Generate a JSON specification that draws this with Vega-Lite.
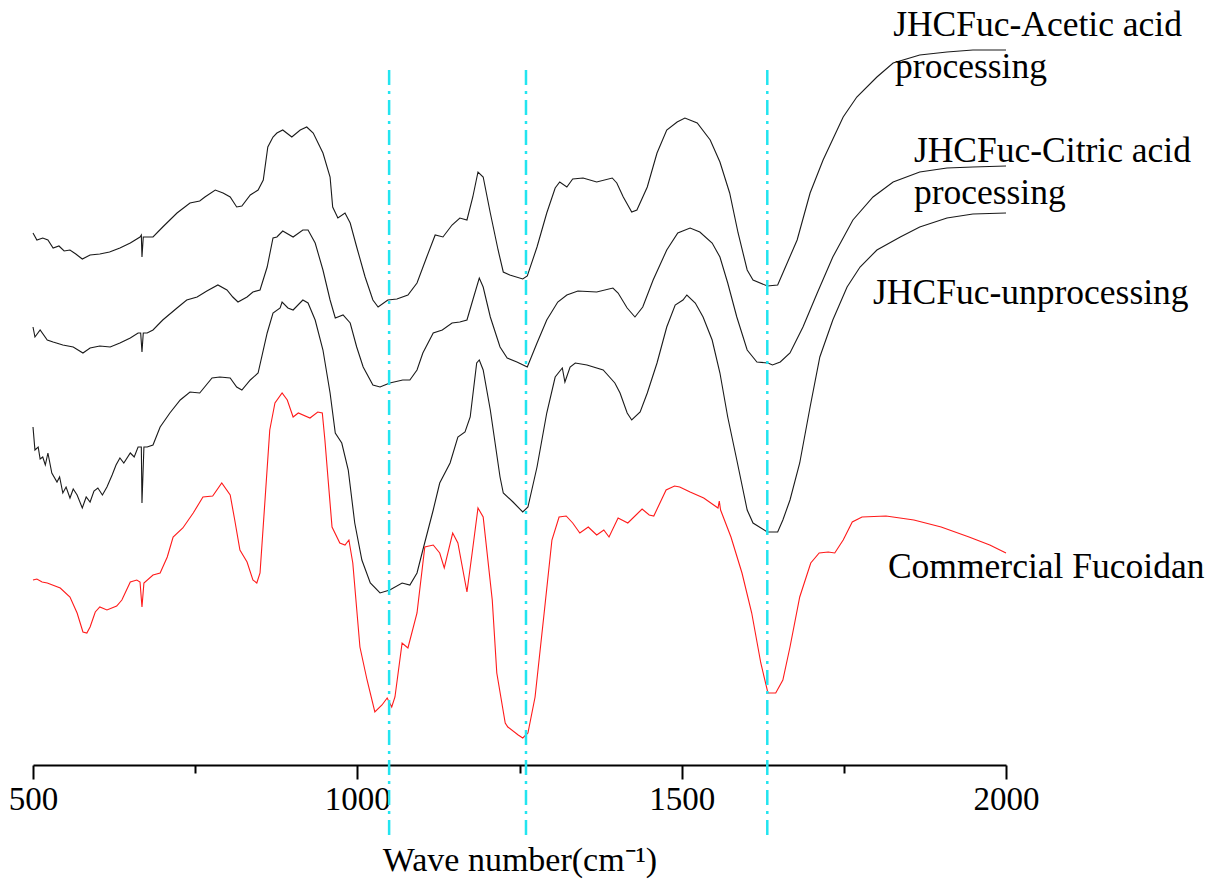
{
  "$schema": "https://vega.github.io/schema/vega-lite/v6.json",
  "autosize": "none",
  "width": 973,
  "height": 720,
  "padding": {"left": 33, "top": 45, "right": 213, "bottom": 119},
  "background": "white",
  "config": {
    "view": {"stroke": null},
    "font": "Liberation Serif"
  },
  "datasets": {
    "acetic": [
      {"wn":500,"t":532},{"wn":506,"t":525},{"wn":515,"t":527},{"wn":523,"t":525},{"wn":531,"t":517},{"wn":540,"t":519},{"wn":548,"t":514},{"wn":557,"t":515},{"wn":566,"t":511},{"wn":576,"t":506},{"wn":588,"t":510},{"wn":603,"t":511},{"wn":618,"t":513},{"wn":634,"t":517},{"wn":650,"t":522},{"wn":665,"t":528},{"wn":667,"t":530},{"wn":668,"t":508},{"wn":670,"t":528},{"wn":676,"t":528},{"wn":685,"t":528},{"wn":700,"t":538},{"wn":722,"t":552},{"wn":742,"t":562},{"wn":757,"t":564},{"wn":765,"t":568},{"wn":781,"t":575},{"wn":793,"t":572},{"wn":804,"t":568},{"wn":814,"t":558},{"wn":822,"t":559},{"wn":835,"t":570},{"wn":847,"t":575},{"wn":855,"t":585},{"wn":862,"t":618},{"wn":870,"t":628},{"wn":876,"t":632},{"wn":885,"t":635},{"wn":899,"t":628},{"wn":912,"t":635},{"wn":922,"t":638},{"wn":932,"t":632},{"wn":947,"t":612},{"wn":958,"t":588},{"wn":962,"t":558},{"wn":970,"t":547},{"wn":981,"t":552},{"wn":989,"t":542},{"wn":999,"t":518},{"wn":1012,"t":488},{"wn":1024,"t":465},{"wn":1032,"t":458},{"wn":1047,"t":465},{"wn":1061,"t":466},{"wn":1078,"t":470},{"wn":1092,"t":482},{"wn":1107,"t":508},{"wn":1120,"t":530},{"wn":1132,"t":528},{"wn":1146,"t":540},{"wn":1158,"t":547},{"wn":1169,"t":545},{"wn":1178,"t":568},{"wn":1186,"t":593},{"wn":1194,"t":588},{"wn":1205,"t":552},{"wn":1217,"t":515},{"wn":1225,"t":493},{"wn":1235,"t":490},{"wn":1255,"t":486},{"wn":1262,"t":489},{"wn":1277,"t":518},{"wn":1292,"t":552},{"wn":1305,"t":577},{"wn":1312,"t":583},{"wn":1323,"t":578},{"wn":1332,"t":586},{"wn":1348,"t":587},{"wn":1369,"t":583},{"wn":1393,"t":587},{"wn":1400,"t":582},{"wn":1410,"t":568},{"wn":1423,"t":553},{"wn":1431,"t":555},{"wn":1447,"t":578},{"wn":1462,"t":612},{"wn":1477,"t":635},{"wn":1493,"t":643},{"wn":1505,"t":647},{"wn":1524,"t":642},{"wn":1544,"t":625},{"wn":1559,"t":603},{"wn":1574,"t":572},{"wn":1587,"t":532},{"wn":1601,"t":495},{"wn":1610,"t":485},{"wn":1632,"t":479},{"wn":1648,"t":480},{"wn":1656,"t":492},{"wn":1678,"t":525},{"wn":1698,"t":572},{"wn":1718,"t":605},{"wn":1749,"t":648},{"wn":1770,"t":668},{"wn":1801,"t":688},{"wn":1826,"t":702},{"wn":1867,"t":710},{"wn":1909,"t":713},{"wn":1949,"t":715},{"wn":2000,"t":715}
    ],
    "citric": [
      {"wn":500,"t":438},{"wn":503,"t":428},{"wn":511,"t":435},{"wn":522,"t":425},{"wn":531,"t":423},{"wn":546,"t":420},{"wn":562,"t":418},{"wn":577,"t":412},{"wn":588,"t":417},{"wn":603,"t":419},{"wn":619,"t":418},{"wn":634,"t":422},{"wn":650,"t":427},{"wn":662,"t":432},{"wn":666,"t":432},{"wn":668,"t":413},{"wn":670,"t":432},{"wn":676,"t":432},{"wn":685,"t":435},{"wn":700,"t":445},{"wn":722,"t":457},{"wn":737,"t":465},{"wn":753,"t":468},{"wn":768,"t":474},{"wn":785,"t":480},{"wn":799,"t":475},{"wn":808,"t":468},{"wn":816,"t":463},{"wn":830,"t":468},{"wn":839,"t":473},{"wn":850,"t":475},{"wn":861,"t":498},{"wn":870,"t":527},{"wn":876,"t":528},{"wn":885,"t":534},{"wn":901,"t":528},{"wn":916,"t":535},{"wn":924,"t":535},{"wn":935,"t":522},{"wn":947,"t":495},{"wn":958,"t":465},{"wn":966,"t":447},{"wn":978,"t":450},{"wn":989,"t":442},{"wn":999,"t":418},{"wn":1009,"t":398},{"wn":1024,"t":380},{"wn":1035,"t":378},{"wn":1050,"t":382},{"wn":1070,"t":385},{"wn":1081,"t":385},{"wn":1092,"t":395},{"wn":1101,"t":412},{"wn":1117,"t":432},{"wn":1131,"t":435},{"wn":1146,"t":442},{"wn":1158,"t":443},{"wn":1169,"t":445},{"wn":1178,"t":465},{"wn":1188,"t":487},{"wn":1194,"t":478},{"wn":1205,"t":448},{"wn":1220,"t":418},{"wn":1231,"t":407},{"wn":1246,"t":403},{"wn":1262,"t":398},{"wn":1277,"t":422},{"wn":1292,"t":445},{"wn":1309,"t":463},{"wn":1323,"t":470},{"wn":1340,"t":474},{"wn":1369,"t":473},{"wn":1394,"t":477},{"wn":1402,"t":472},{"wn":1416,"t":457},{"wn":1428,"t":448},{"wn":1440,"t":458},{"wn":1456,"t":485},{"wn":1477,"t":515},{"wn":1494,"t":532},{"wn":1513,"t":537},{"wn":1528,"t":533},{"wn":1547,"t":522},{"wn":1559,"t":508},{"wn":1571,"t":482},{"wn":1585,"t":448},{"wn":1601,"t":415},{"wn":1616,"t":403},{"wn":1633,"t":402},{"wn":1640,"t":400},{"wn":1652,"t":403},{"wn":1667,"t":412},{"wn":1687,"t":438},{"wn":1709,"t":472},{"wn":1733,"t":508},{"wn":1764,"t":545},{"wn":1795,"t":568},{"wn":1826,"t":583},{"wn":1867,"t":593},{"wn":1909,"t":597},{"wn":1949,"t":598},{"wn":2000,"t":599}
    ],
    "unprocessed": [
      {"wn":500,"t":338},{"wn":503,"t":315},{"wn":508,"t":318},{"wn":511,"t":306},{"wn":515,"t":308},{"wn":519,"t":300},{"wn":523,"t":312},{"wn":529,"t":292},{"wn":537,"t":283},{"wn":541,"t":288},{"wn":546,"t":272},{"wn":551,"t":278},{"wn":557,"t":267},{"wn":562,"t":276},{"wn":568,"t":270},{"wn":576,"t":257},{"wn":582,"t":268},{"wn":588,"t":263},{"wn":594,"t":274},{"wn":600,"t":277},{"wn":607,"t":270},{"wn":614,"t":278},{"wn":622,"t":290},{"wn":628,"t":300},{"wn":634,"t":307},{"wn":640,"t":302},{"wn":650,"t":312},{"wn":656,"t":308},{"wn":662,"t":318},{"wn":667,"t":318},{"wn":668,"t":262},{"wn":671,"t":318},{"wn":676,"t":318},{"wn":685,"t":320},{"wn":696,"t":338},{"wn":711,"t":352},{"wn":727,"t":365},{"wn":742,"t":373},{"wn":757,"t":372},{"wn":776,"t":387},{"wn":788,"t":388},{"wn":804,"t":387},{"wn":814,"t":378},{"wn":822,"t":375},{"wn":835,"t":385},{"wn":847,"t":392},{"wn":861,"t":432},{"wn":870,"t":452},{"wn":881,"t":457},{"wn":884,"t":463},{"wn":893,"t":457},{"wn":901,"t":455},{"wn":916,"t":465},{"wn":924,"t":462},{"wn":935,"t":445},{"wn":947,"t":415},{"wn":958,"t":372},{"wn":966,"t":332},{"wn":976,"t":322},{"wn":986,"t":295},{"wn":996,"t":242},{"wn":1007,"t":205},{"wn":1020,"t":182},{"wn":1035,"t":172},{"wn":1050,"t":175},{"wn":1069,"t":182},{"wn":1081,"t":180},{"wn":1092,"t":192},{"wn":1101,"t":215},{"wn":1117,"t":255},{"wn":1127,"t":282},{"wn":1143,"t":302},{"wn":1155,"t":328},{"wn":1166,"t":333},{"wn":1174,"t":348},{"wn":1184,"t":402},{"wn":1188,"t":405},{"wn":1194,"t":395},{"wn":1205,"t":355},{"wn":1220,"t":288},{"wn":1225,"t":272},{"wn":1240,"t":263},{"wn":1255,"t":253},{"wn":1263,"t":258},{"wn":1277,"t":298},{"wn":1292,"t":352},{"wn":1305,"t":388},{"wn":1316,"t":397},{"wn":1320,"t":383},{"wn":1328,"t":398},{"wn":1336,"t":402},{"wn":1354,"t":400},{"wn":1379,"t":395},{"wn":1397,"t":382},{"wn":1405,"t":372},{"wn":1416,"t":352},{"wn":1423,"t":345},{"wn":1436,"t":353},{"wn":1447,"t":372},{"wn":1462,"t":402},{"wn":1477,"t":438},{"wn":1490,"t":460},{"wn":1502,"t":465},{"wn":1508,"t":470},{"wn":1521,"t":462},{"wn":1533,"t":448},{"wn":1547,"t":425},{"wn":1559,"t":392},{"wn":1571,"t":348},{"wn":1585,"t":305},{"wn":1601,"t":255},{"wn":1610,"t":242},{"wn":1632,"t":233},{"wn":1648,"t":233},{"wn":1656,"t":245},{"wn":1667,"t":265},{"wn":1682,"t":302},{"wn":1698,"t":358},{"wn":1713,"t":408},{"wn":1733,"t":445},{"wn":1755,"t":478},{"wn":1775,"t":498},{"wn":1801,"t":515},{"wn":1837,"t":528},{"wn":1867,"t":538},{"wn":1909,"t":547},{"wn":1949,"t":551},{"wn":2000,"t":552}
    ],
    "commercial": [
      {"wn":500,"t":185},{"wn":506,"t":186},{"wn":514,"t":183},{"wn":522,"t":182},{"wn":542,"t":177},{"wn":557,"t":168},{"wn":568,"t":152},{"wn":577,"t":133},{"wn":583,"t":132},{"wn":588,"t":138},{"wn":596,"t":153},{"wn":603,"t":158},{"wn":614,"t":155},{"wn":629,"t":159},{"wn":637,"t":165},{"wn":650,"t":183},{"wn":660,"t":185},{"wn":665,"t":183},{"wn":668,"t":158},{"wn":671,"t":182},{"wn":685,"t":190},{"wn":696,"t":192},{"wn":707,"t":208},{"wn":716,"t":228},{"wn":731,"t":237},{"wn":747,"t":252},{"wn":762,"t":268},{"wn":777,"t":269},{"wn":791,"t":282},{"wn":804,"t":270},{"wn":811,"t":245},{"wn":819,"t":215},{"wn":830,"t":203},{"wn":839,"t":185},{"wn":845,"t":182},{"wn":850,"t":192},{"wn":858,"t":268},{"wn":865,"t":335},{"wn":873,"t":362},{"wn":884,"t":372},{"wn":892,"t":365},{"wn":901,"t":348},{"wn":909,"t":352},{"wn":927,"t":347},{"wn":939,"t":353},{"wn":946,"t":352},{"wn":950,"t":325},{"wn":955,"t":285},{"wn":961,"t":238},{"wn":973,"t":222},{"wn":981,"t":220},{"wn":987,"t":225},{"wn":993,"t":202},{"wn":1004,"t":118},{"wn":1015,"t":85},{"wn":1027,"t":53},{"wn":1038,"t":60},{"wn":1046,"t":67},{"wn":1053,"t":58},{"wn":1058,"t":68},{"wn":1069,"t":122},{"wn":1078,"t":117},{"wn":1092,"t":152},{"wn":1104,"t":218},{"wn":1117,"t":220},{"wn":1127,"t":212},{"wn":1134,"t":197},{"wn":1147,"t":232},{"wn":1155,"t":222},{"wn":1169,"t":173},{"wn":1177,"t":212},{"wn":1186,"t":257},{"wn":1194,"t":248},{"wn":1208,"t":165},{"wn":1215,"t":92},{"wn":1228,"t":42},{"wn":1232,"t":38},{"wn":1248,"t":30},{"wn":1255,"t":27},{"wn":1263,"t":32},{"wn":1274,"t":68},{"wn":1288,"t":152},{"wn":1300,"t":225},{"wn":1311,"t":248},{"wn":1322,"t":249},{"wn":1332,"t":242},{"wn":1343,"t":232},{"wn":1356,"t":238},{"wn":1369,"t":230},{"wn":1380,"t":235},{"wn":1388,"t":228},{"wn":1402,"t":247},{"wn":1417,"t":242},{"wn":1439,"t":256},{"wn":1450,"t":250},{"wn":1457,"t":249},{"wn":1476,"t":275},{"wn":1489,"t":279},{"wn":1497,"t":278},{"wn":1513,"t":273},{"wn":1534,"t":267},{"wn":1556,"t":257},{"wn":1558,"t":264},{"wn":1560,"t":255},{"wn":1576,"t":228},{"wn":1593,"t":192},{"wn":1608,"t":152},{"wn":1622,"t":102},{"wn":1633,"t":72},{"wn":1645,"t":72},{"wn":1656,"t":85},{"wn":1667,"t":118},{"wn":1682,"t":168},{"wn":1699,"t":202},{"wn":1712,"t":212},{"wn":1726,"t":213},{"wn":1736,"t":212},{"wn":1749,"t":225},{"wn":1763,"t":243},{"wn":1778,"t":248},{"wn":1815,"t":249},{"wn":1858,"t":245},{"wn":1900,"t":238},{"wn":1943,"t":228},{"wn":1975,"t":220},{"wn":2000,"t":212}
    ],
    "bands": [
      {"wn":1049},{"wn":1260},{"wn":1632}
    ],
    "labels": [
      {"wn":1826,"t":729,"label":"JHCFuc-Acetic acid"},
      {"wn":1829,"t":687,"label":"processing"},
      {"wn":1858,"t":603,"label":"JHCFuc-Citric acid"},
      {"wn":1858,"t":561,"label":"processing"},
      {"wn":1795,"t":461,"label":"JHCFuc-unprocessing"},
      {"wn":1818,"t":187,"label":"Commercial Fucoidan"}
    ]
  },
  "layer": [
    {
      "data": {"name": "acetic"},
      "mark": {"type": "line", "color": "#1a1a1a", "strokeWidth": 1.1},
      "encoding": {
        "x": {
          "field": "wn",
          "type": "quantitative",
          "scale": {"domain": [500, 2000], "nice": false, "zero": false},
          "axis": {
            "title": "Wave number(cm⁻¹)",
            "titleFont": "Liberation Serif",
            "titleFontSize": 34,
            "titleFontWeight": "normal",
            "titleColor": "black",
            "titleY": 78,
            "values": [500, 750, 1000, 1250, 1500, 1750, 2000],
            "labelExpr": "datum.value % 500 === 0 ? datum.value : ''",
            "labelFont": "Liberation Serif",
            "labelFontSize": 33,
            "labelColor": "black",
            "labelPadding": 4,
            "labelFlush": false,
            "labelOverlap": false,
            "domainColor": "black",
            "domainWidth": 2,
            "tickColor": "black",
            "tickWidth": 2,
            "tickSize": {"condition": {"test": "datum.value % 500 === 0", "value": 14}, "value": 8},
            "grid": false
          }
        },
        "y": {
          "field": "t",
          "type": "quantitative",
          "scale": {"domain": [0, 720], "nice": false, "zero": false},
          "axis": null
        }
      }
    },
    {
      "data": {"name": "citric"},
      "mark": {"type": "line", "color": "#1a1a1a", "strokeWidth": 1.1},
      "encoding": {
        "x": {"field": "wn", "type": "quantitative"},
        "y": {"field": "t", "type": "quantitative"}
      }
    },
    {
      "data": {"name": "unprocessed"},
      "mark": {"type": "line", "color": "#1a1a1a", "strokeWidth": 1.1},
      "encoding": {
        "x": {"field": "wn", "type": "quantitative"},
        "y": {"field": "t", "type": "quantitative"}
      }
    },
    {
      "data": {"name": "commercial"},
      "mark": {"type": "line", "color": "#ff1a1a", "strokeWidth": 1.1},
      "encoding": {
        "x": {"field": "wn", "type": "quantitative"},
        "y": {"field": "t", "type": "quantitative"}
      }
    },
    {
      "data": {"name": "bands"},
      "mark": {"type": "rule", "color": "#22e5f0", "strokeWidth": 2.5, "strokeDash": [15, 6, 3, 6]},
      "encoding": {
        "x": {"field": "wn", "type": "quantitative"},
        "y": {"datum": 695, "type": "quantitative"},
        "y2": {"datum": -70}
      }
    },
    {
      "data": {"name": "labels"},
      "mark": {"type": "text", "align": "left", "baseline": "alphabetic", "font": "Liberation Serif", "fontSize": 35.5, "color": "black"},
      "encoding": {
        "x": {"field": "wn", "type": "quantitative"},
        "y": {"field": "t", "type": "quantitative"},
        "text": {"field": "label"}
      }
    }
  ]
}
